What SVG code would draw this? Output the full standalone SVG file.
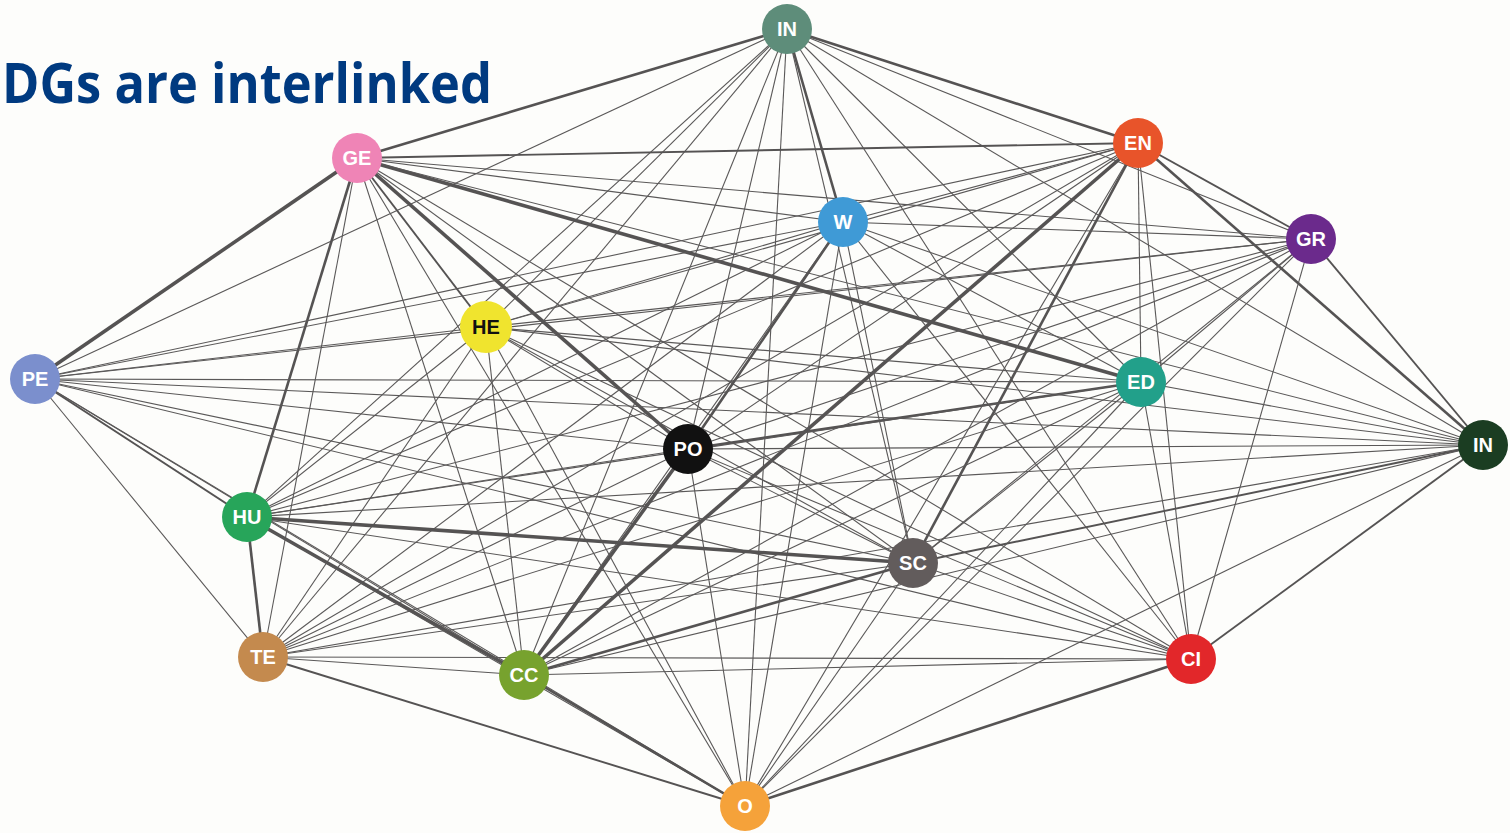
<svg xmlns="http://www.w3.org/2000/svg" width="1510" height="833" viewBox="0 0 1510 833">
<style>
.bg{fill:#fdfdfb}
.e{stroke:#5a5858;stroke-width:1.1;fill:none}
.t2{stroke:#555353;stroke-width:1.9}
.t3{stroke:#555353;stroke-width:2.6}
.t4{stroke:#555353;stroke-width:3.6}
.lbl{font-family:"Liberation Sans",Arial,sans-serif;font-weight:bold;font-size:20px;fill:#ffffff;text-anchor:middle;dominant-baseline:central}
.title{font-family:"Open Sans","Liberation Sans",sans-serif;font-weight:bold;font-size:55px;fill:#003a80}
</style>
<rect class="bg" x="0" y="0" width="1510" height="833"/>
<text class="title" x="2" y="103" textLength="490" lengthAdjust="spacingAndGlyphs">DGs are interlinked</text>
<g id="connectors">
<line class="e t3" x1="787" y1="29" x2="357" y2="158"/>
<line class="e t3" x1="787" y1="29" x2="1138" y2="143"/>
<line class="e t3" x1="787" y1="29" x2="843" y2="222"/>
<line class="e" x1="787" y1="29" x2="1311" y2="239"/>
<line class="e" x1="787" y1="29" x2="486" y2="327"/>
<line class="e" x1="787" y1="29" x2="35" y2="379"/>
<line class="e" x1="787" y1="29" x2="1141" y2="382"/>
<line class="e" x1="787" y1="29" x2="1483" y2="445"/>
<line class="e" x1="787" y1="29" x2="688" y2="449"/>
<line class="e" x1="787" y1="29" x2="247" y2="517"/>
<line class="e" x1="787" y1="29" x2="913" y2="563"/>
<line class="e" x1="787" y1="29" x2="263" y2="657"/>
<line class="e" x1="787" y1="29" x2="524" y2="675"/>
<line class="e" x1="787" y1="29" x2="1191" y2="659"/>
<line class="e" x1="787" y1="29" x2="745" y2="806"/>
<line class="e t2" x1="357" y1="158" x2="1138" y2="143"/>
<line class="e" x1="357" y1="158" x2="843" y2="222"/>
<line class="e" x1="357" y1="158" x2="1311" y2="239"/>
<line class="e t2" x1="357" y1="158" x2="486" y2="327"/>
<line class="e t4" x1="357" y1="158" x2="35" y2="379"/>
<line class="e t4" x1="357" y1="158" x2="1141" y2="382"/>
<line class="e" x1="357" y1="158" x2="1483" y2="445"/>
<line class="e t4" x1="357" y1="158" x2="688" y2="449"/>
<line class="e t3" x1="357" y1="158" x2="247" y2="517"/>
<line class="e" x1="357" y1="158" x2="913" y2="563"/>
<line class="e" x1="357" y1="158" x2="263" y2="657"/>
<line class="e" x1="357" y1="158" x2="524" y2="675"/>
<line class="e" x1="357" y1="158" x2="1191" y2="659"/>
<line class="e" x1="357" y1="158" x2="745" y2="806"/>
<line class="e" x1="1138" y1="143" x2="843" y2="222"/>
<line class="e t2" x1="1138" y1="143" x2="1311" y2="239"/>
<line class="e" x1="1138" y1="143" x2="486" y2="327"/>
<line class="e" x1="1138" y1="143" x2="35" y2="379"/>
<line class="e" x1="1138" y1="143" x2="1141" y2="382"/>
<line class="e t3" x1="1138" y1="143" x2="1483" y2="445"/>
<line class="e" x1="1138" y1="143" x2="688" y2="449"/>
<line class="e" x1="1138" y1="143" x2="247" y2="517"/>
<line class="e t3" x1="1138" y1="143" x2="913" y2="563"/>
<line class="e" x1="1138" y1="143" x2="263" y2="657"/>
<line class="e t4" x1="1138" y1="143" x2="524" y2="675"/>
<line class="e" x1="1138" y1="143" x2="1191" y2="659"/>
<line class="e" x1="1138" y1="143" x2="745" y2="806"/>
<line class="e" x1="843" y1="222" x2="1311" y2="239"/>
<line class="e" x1="843" y1="222" x2="486" y2="327"/>
<line class="e" x1="843" y1="222" x2="35" y2="379"/>
<line class="e" x1="843" y1="222" x2="1141" y2="382"/>
<line class="e" x1="843" y1="222" x2="1483" y2="445"/>
<line class="e t3" x1="843" y1="222" x2="688" y2="449"/>
<line class="e" x1="843" y1="222" x2="247" y2="517"/>
<line class="e" x1="843" y1="222" x2="913" y2="563"/>
<line class="e" x1="843" y1="222" x2="263" y2="657"/>
<line class="e" x1="843" y1="222" x2="524" y2="675"/>
<line class="e" x1="843" y1="222" x2="1191" y2="659"/>
<line class="e" x1="843" y1="222" x2="745" y2="806"/>
<line class="e" x1="1311" y1="239" x2="486" y2="327"/>
<line class="e" x1="1311" y1="239" x2="35" y2="379"/>
<line class="e" x1="1311" y1="239" x2="1141" y2="382"/>
<line class="e t2" x1="1311" y1="239" x2="1483" y2="445"/>
<line class="e" x1="1311" y1="239" x2="688" y2="449"/>
<line class="e" x1="1311" y1="239" x2="247" y2="517"/>
<line class="e" x1="1311" y1="239" x2="913" y2="563"/>
<line class="e" x1="1311" y1="239" x2="263" y2="657"/>
<line class="e" x1="1311" y1="239" x2="524" y2="675"/>
<line class="e" x1="1311" y1="239" x2="1191" y2="659"/>
<line class="e" x1="1311" y1="239" x2="745" y2="806"/>
<line class="e" x1="486" y1="327" x2="35" y2="379"/>
<line class="e" x1="486" y1="327" x2="1141" y2="382"/>
<line class="e" x1="486" y1="327" x2="1483" y2="445"/>
<line class="e" x1="486" y1="327" x2="688" y2="449"/>
<line class="e" x1="486" y1="327" x2="247" y2="517"/>
<line class="e" x1="486" y1="327" x2="913" y2="563"/>
<line class="e" x1="486" y1="327" x2="263" y2="657"/>
<line class="e" x1="486" y1="327" x2="524" y2="675"/>
<line class="e" x1="486" y1="327" x2="1191" y2="659"/>
<line class="e" x1="486" y1="327" x2="745" y2="806"/>
<line class="e" x1="35" y1="379" x2="1141" y2="382"/>
<line class="e" x1="35" y1="379" x2="1483" y2="445"/>
<line class="e" x1="35" y1="379" x2="688" y2="449"/>
<line class="e t2" x1="35" y1="379" x2="247" y2="517"/>
<line class="e" x1="35" y1="379" x2="913" y2="563"/>
<line class="e" x1="35" y1="379" x2="263" y2="657"/>
<line class="e" x1="35" y1="379" x2="524" y2="675"/>
<line class="e" x1="35" y1="379" x2="1191" y2="659"/>
<line class="e" x1="35" y1="379" x2="745" y2="806"/>
<line class="e" x1="1141" y1="382" x2="1483" y2="445"/>
<line class="e t3" x1="1141" y1="382" x2="688" y2="449"/>
<line class="e" x1="1141" y1="382" x2="247" y2="517"/>
<line class="e" x1="1141" y1="382" x2="913" y2="563"/>
<line class="e" x1="1141" y1="382" x2="263" y2="657"/>
<line class="e" x1="1141" y1="382" x2="524" y2="675"/>
<line class="e" x1="1141" y1="382" x2="1191" y2="659"/>
<line class="e" x1="1141" y1="382" x2="745" y2="806"/>
<line class="e" x1="1483" y1="445" x2="688" y2="449"/>
<line class="e" x1="1483" y1="445" x2="247" y2="517"/>
<line class="e t2" x1="1483" y1="445" x2="913" y2="563"/>
<line class="e" x1="1483" y1="445" x2="263" y2="657"/>
<line class="e" x1="1483" y1="445" x2="524" y2="675"/>
<line class="e t2" x1="1483" y1="445" x2="1191" y2="659"/>
<line class="e" x1="1483" y1="445" x2="745" y2="806"/>
<line class="e" x1="688" y1="449" x2="247" y2="517"/>
<line class="e" x1="688" y1="449" x2="913" y2="563"/>
<line class="e" x1="688" y1="449" x2="263" y2="657"/>
<line class="e t4" x1="688" y1="449" x2="524" y2="675"/>
<line class="e" x1="688" y1="449" x2="1191" y2="659"/>
<line class="e" x1="688" y1="449" x2="745" y2="806"/>
<line class="e t4" x1="247" y1="517" x2="913" y2="563"/>
<line class="e t3" x1="247" y1="517" x2="263" y2="657"/>
<line class="e t4" x1="247" y1="517" x2="524" y2="675"/>
<line class="e" x1="247" y1="517" x2="1191" y2="659"/>
<line class="e" x1="247" y1="517" x2="745" y2="806"/>
<line class="e" x1="913" y1="563" x2="263" y2="657"/>
<line class="e t3" x1="913" y1="563" x2="524" y2="675"/>
<line class="e" x1="913" y1="563" x2="1191" y2="659"/>
<line class="e" x1="913" y1="563" x2="745" y2="806"/>
<line class="e" x1="263" y1="657" x2="524" y2="675"/>
<line class="e" x1="263" y1="657" x2="1191" y2="659"/>
<line class="e t2" x1="263" y1="657" x2="745" y2="806"/>
<line class="e" x1="524" y1="675" x2="1191" y2="659"/>
<line class="e t3" x1="524" y1="675" x2="745" y2="806"/>
<line class="e t3" x1="1191" y1="659" x2="745" y2="806"/>
</g>
<g id="node-IN-top"><circle cx="787" cy="29" r="25" fill="#5e8d7a"/><text class="lbl" x="787" y="29">IN</text></g>
<g id="node-GE"><circle cx="357" cy="158" r="25" fill="#ef84b6"/><text class="lbl" x="357" y="158">GE</text></g>
<g id="node-EN"><circle cx="1138" cy="143" r="25" fill="#e8542a"/><text class="lbl" x="1138" y="143">EN</text></g>
<g id="node-W"><circle cx="843" cy="222" r="25" fill="#3f9ad6"/><text class="lbl" x="843" y="222">W</text></g>
<g id="node-GR"><circle cx="1311" cy="239" r="25" fill="#6b2a8c"/><text class="lbl" x="1311" y="239">GR</text></g>
<g id="node-HE"><circle cx="486" cy="327" r="26" fill="#f0e42e"/><text class="lbl" x="486" y="327" style="fill:#111111">HE</text></g>
<g id="node-PE"><circle cx="35" cy="379" r="25" fill="#7b8fcd"/><text class="lbl" x="35" y="379">PE</text></g>
<g id="node-ED"><circle cx="1141" cy="382" r="25" fill="#22a08a"/><text class="lbl" x="1141" y="382">ED</text></g>
<g id="node-IN-right"><circle cx="1483" cy="445" r="25" fill="#1b3d22"/><text class="lbl" x="1483" y="445">IN</text></g>
<g id="node-PO"><circle cx="688" cy="449" r="25" fill="#111111"/><text class="lbl" x="688" y="449">PO</text></g>
<g id="node-HU"><circle cx="247" cy="517" r="25" fill="#27a55a"/><text class="lbl" x="247" y="517">HU</text></g>
<g id="node-SC"><circle cx="913" cy="563" r="25" fill="#625c5c"/><text class="lbl" x="913" y="563">SC</text></g>
<g id="node-TE"><circle cx="263" cy="657" r="25" fill="#c48a4e"/><text class="lbl" x="263" y="657">TE</text></g>
<g id="node-CC"><circle cx="524" cy="675" r="25" fill="#77a22e"/><text class="lbl" x="524" y="675">CC</text></g>
<g id="node-CI"><circle cx="1191" cy="659" r="25" fill="#e2272a"/><text class="lbl" x="1191" y="659">CI</text></g>
<g id="node-O"><circle cx="745" cy="806" r="25" fill="#f5a23a"/><text class="lbl" x="745" y="806">O</text></g>
</svg>
